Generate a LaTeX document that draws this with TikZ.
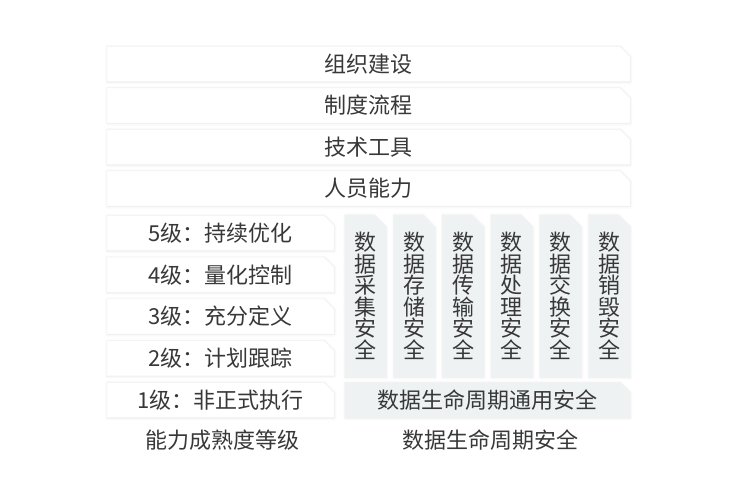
\documentclass[tikz,border=0pt]{standalone}
\usepackage{fontspec}
\setmainfont{Noto Sans CJK SC}
\usetikzlibrary{backgrounds,shadows.blur}
\definecolor{txtgray}{HTML}{383838}
\definecolor{lifefill}{HTML}{EEF2F3}
\begin{document}
\begin{tikzpicture}
  [x=1pt,y=-1pt,every node/.style={text=txtgray,font=\fontsize{22}{21.5}\selectfont,inner sep=0pt},
   card/.style={draw=black!5,line width=0.6pt,
     blur shadow={shadow xshift=0.3pt,shadow yshift=-0.5pt,shadow blur radius=2.2pt,shadow opacity=10}},
   bar/.style={minimum width=523pt,minimum height=35pt},
   level/.style={minimum width=227pt,minimum height=35pt},
   stage/.style={minimum width=41pt,minimum height=162pt,align=center},
   common/.style={minimum width=285pt,minimum height=35pt},
   caption/.style={}]
  \useasboundingbox (0,0) rectangle (739,500);
  \node[bar] (b1) at (368.5,64) {组织建设};
  \node[bar] (b2) at (368.5,105.5) {制度流程};
  \node[bar] (b3) at (368.5,147) {技术工具};
  \node[bar] (b4) at (368.5,188.5) {人员能力};

  \node[level] (l5) at (220.5,233) {5级：持续优化};
  \node[level] (l4) at (220.5,274.75) {4级：量化控制};
  \node[level] (l3) at (220.5,316.5) {3级：充分定义};
  \node[level] (l2) at (220.5,358.25) {2级：计划跟踪};
  \node[level] (l1) at (220.5,400) {1级：非正式执行};

  \foreach \k/\a/\b in {0/采/集,1/存/储,2/传/输,3/处/理,4/交/换,5/销/毁}
    \node[stage] (s\k) at (365.5+48.8*\k,296) {数\\据\\\a\\\b\\安\\全};
  \node[common] (c1) at (487.5,400) {数据生命周期通用安全};

  \node[caption] (cap1) at (222,440) {能力成熟度等级};
  \node[caption] (cap2) at (490,440) {数据生命周期安全};

  % folded cards behind the texts
  \begin{scope}[on background layer]
    \foreach \n/\c/\f in {b1/white/10,b2/white/10,b3/white/10,b4/white/10,
        l5/white/10,l4/white/10,l3/white/10,l2/white/10,l1/white/10,
        s0/lifefill/12,s1/lifefill/12,s2/lifefill/12,s3/lifefill/12,s4/lifefill/12,s5/lifefill/12,
        c1/lifefill/10}
      \filldraw[card,fill=\c] (\n.south west) -- (\n.north west) -- ([xshift=-\f pt]\n.north east)
        -- ([yshift=-\f pt]\n.north east) -- (\n.south east) -- cycle;
  \end{scope}
\end{tikzpicture}
\end{document}
